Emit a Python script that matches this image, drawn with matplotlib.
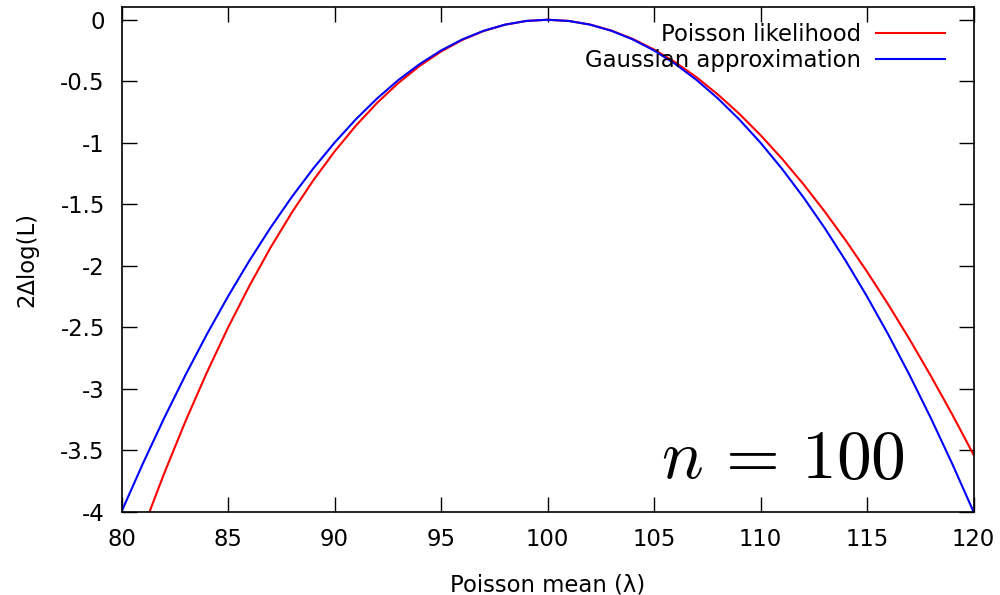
import matplotlib
matplotlib.use("Agg")
import matplotlib.pyplot as plt

# Poisson mean values (x axis)
lam = [80, 81, 82, 83, 84, 85, 86, 87, 88, 89, 90,
       91, 92, 93, 94, 95, 96, 97, 98, 99, 100,
       101, 102, 103, 104, 105, 106, 107, 108, 109, 110,
       111, 112, 113, 114, 115, 116, 117, 118, 119, 120]

# 2 dlogL
poisson = [-4.63, -4.144, -3.690, -3.266, -2.871, -2.504, -2.165, -1.852, -1.567, -1.307, -1.072,
           -0.862, -0.676, -0.514, -0.375, -0.259, -0.164, -0.092, -0.041, -0.010, 0.0,
           -0.010, -0.039, -0.088, -0.156, -0.242, -0.346, -0.468, -0.608, -0.764, -0.938,
           -1.128, -1.334, -1.556, -1.794, -2.048, -2.316, -2.599, -2.897, -3.209, -3.536]

# 2 dlogL
gauss = [-4.00, -3.61, -3.24, -2.89, -2.56, -2.25, -1.96, -1.69, -1.44, -1.21, -1.00,
         -0.81, -0.64, -0.49, -0.36, -0.25, -0.16, -0.09, -0.04, -0.01, 0.0,
         -0.01, -0.04, -0.09, -0.16, -0.25, -0.36, -0.49, -0.64, -0.81, -1.00,
         -1.21, -1.44, -1.69, -1.96, -2.25, -2.56, -2.89, -3.24, -3.61, -4.00]

xticks = [80, 85, 90, 95, 100, 105, 110, 115, 120]
yticks = [0, -0.5, -1, -1.5, -2, -2.5, -3, -3.5, -4]
ytick_labels = ["0", "-0.5", "-1", "-1.5", "-2", "-2.5", "-3", "-3.5", "-4"]

plt.rcParams["font.family"] = "DejaVu Sans"
plt.rcParams["mathtext.fontset"] = "cm"

fig = plt.figure(figsize=(10, 5.95), dpi=100)
ax = fig.add_axes([0.1215, 0.140, 0.852, 0.8475])

ax.plot(lam, poisson, color="#ff0000", lw=1.5, label="Poisson likelihood")
ax.plot(lam, gauss, color="#0000ff", lw=1.5, label="Gaussian approximation")

ax.set_xlim(80, 120)
ax.set_ylim(-4, 0.1)
ax.set_xticks(xticks)
ax.set_yticks(yticks)
ax.set_yticklabels(ytick_labels)
ax.tick_params(direction="in", length=11, width=1, top=True, right=True,
               labelsize=16.4, colors="black")
ax.tick_params(axis="y", pad=12)
ax.tick_params(axis="x", pad=12)
for s in ax.spines.values():
    s.set_linewidth(1.2)

ax.set_xlabel("Poisson mean (λ)", fontsize=16.4, labelpad=16)
ax.set_ylabel("2Δlog(L)", fontsize=16.4, labelpad=15.5)

ax.legend(loc="upper right", bbox_to_anchor=(0.98, 0.992), markerfirst=False,
          frameon=False, fontsize=16.4, handlelength=3.05, handletextpad=0.65,
          labelspacing=0.15, borderaxespad=0.2, borderpad=0.3)

ax.text(0.9197, 0.067, r"$n\,=\,100$", transform=ax.transAxes,
        ha="right", va="baseline", fontsize=50)

fig.savefig("out.png", dpi=100)
